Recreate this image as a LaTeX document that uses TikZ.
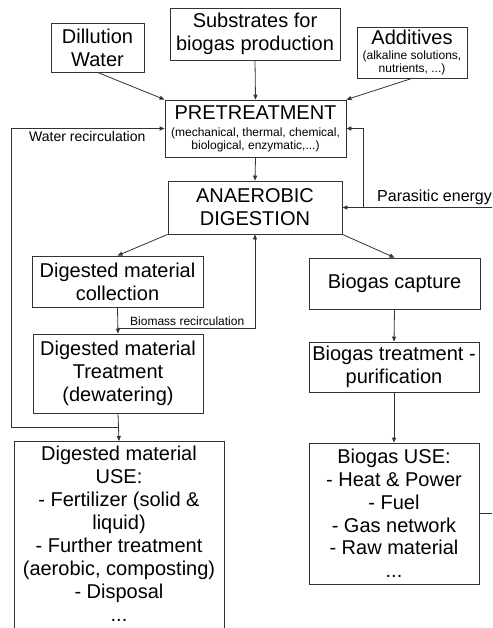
\documentclass[tikz,border=0pt]{standalone}
\usepackage{fontspec}
\setmainfont{Liberation Sans}
\usepackage{tikz}
\usetikzlibrary{arrows.meta}

\begin{document}
\begin{tikzpicture}[x=1pt,y=-1pt,
     box/.style={draw=black!80,line width=0.8pt,align=center,inner sep=0pt,
                 font=\fontsize{20}{22.8}\selectfont},
     flow/.style={draw=black!80,line width=0.8pt,-{Triangle[length=5pt,width=4pt]}},
     note/.style={inner sep=0pt,anchor=west,font=\fontsize{14}{16}\selectfont}
     ]
   % page frame, the picture is cut at the right and at the bottom
   \clip (0,0) rectangle (492,628);

   % inputs
   \node[box,minimum width=93,minimum height=49] (dil) at (97.5,47.5){Dillution\\Water};
   \node[box,minimum width=170,minimum height=52] (sub) at (255,34){Substrates for\\biogas production};
   \node[box,minimum width=110,minimum height=51,font=\fontsize{12}{13.5}\selectfont] (add) at (412,52.5)
      {{\fontsize{20}{22}\selectfont Additives}\\[1pt](alkaline solutions,\\nutrients, ...)};
   \node[box,minimum width=181,minimum height=57,font=\fontsize{12}{13}\selectfont] (pre) at (255.5,128.5)
      {{\fontsize{20}{22}\selectfont PRETREATMENT}\\[4pt](mechanical, thermal, chemical,\\biological, enzymatic,...)};
   \node[box,minimum width=174,minimum height=53] (ana) at (255,207.5){ANAEROBIC\\DIGESTION};

   % digestate line (left) and biogas line (right)
   \node[box,minimum width=171,minimum height=51] (col) at (117.5,281.5){Digested material\\collection};
   \node[box,minimum width=170,minimum height=79] (trt) at (118,373.5){Digested material\\Treatment\\(dewatering)};
   \node[box,minimum width=210,minimum height=200,anchor=north] (duse) at (119,441){};
   \node[box,draw=none,anchor=north,font=\fontsize{20}{23}\selectfont] (dusetxt) at (119,446)
      {Digested material\\USE:\\- Fertilizer (solid \&\\liquid)\\- Further treatment\\(aerobic, composting)\\- Disposal\\...};
   \node[box,minimum width=171,minimum height=51] (cap) at (394.5,283.5){Biogas capture};
   \node[box,minimum width=170,minimum height=50] (btr) at (394,367){Biogas treatment -\\purification};
   \node[box,minimum width=170,minimum height=141] (buse) at (394,513.5)
      {Biogas USE:\\- Heat \& Power\\- Fuel\\- Gas network\\- Raw material\\...};

   % straight arrows
   \foreach \a/\b in {dil.south/pre.north west, sub.south/pre.north, add.south/pre.north east,
                      pre.south/ana.north, ana.south west/col.north, ana.south east/cap.north,
                      col.south/trt.north, trt.south/duse.north,
                      cap.south/btr.north, btr.south/buse.north}
   {
     \draw[flow] (\a) -- (\b);
   }

   % recirculations
   \coordinate (bm) at (117.5,328);
   \coordinate (wr) at (118,427);
   \coordinate (wl) at (11,427);
   \coordinate (pe) at (505,513.5);
   \coordinate (pv) at (363,207.5);
   \draw[flow] (bm) -| (ana.south);
   \draw[flow] (wr) -- (wl) |- (pre.west);
   \draw[flow] (buse.east) -- (pe) |- (ana.east);
   \draw[flow] (pv) |- (pre.east);

   \node[note] (wlab) at (29,136){Water recirculation};
   \node[note,font=\fontsize{12}{14}\selectfont] (blab) at (130,321){Biomass recirculation};
   \node[note,font=\fontsize{16}{18}\selectfont] (plab) at (377,197){Parasitic energy};
\end{tikzpicture}
\end{document}
